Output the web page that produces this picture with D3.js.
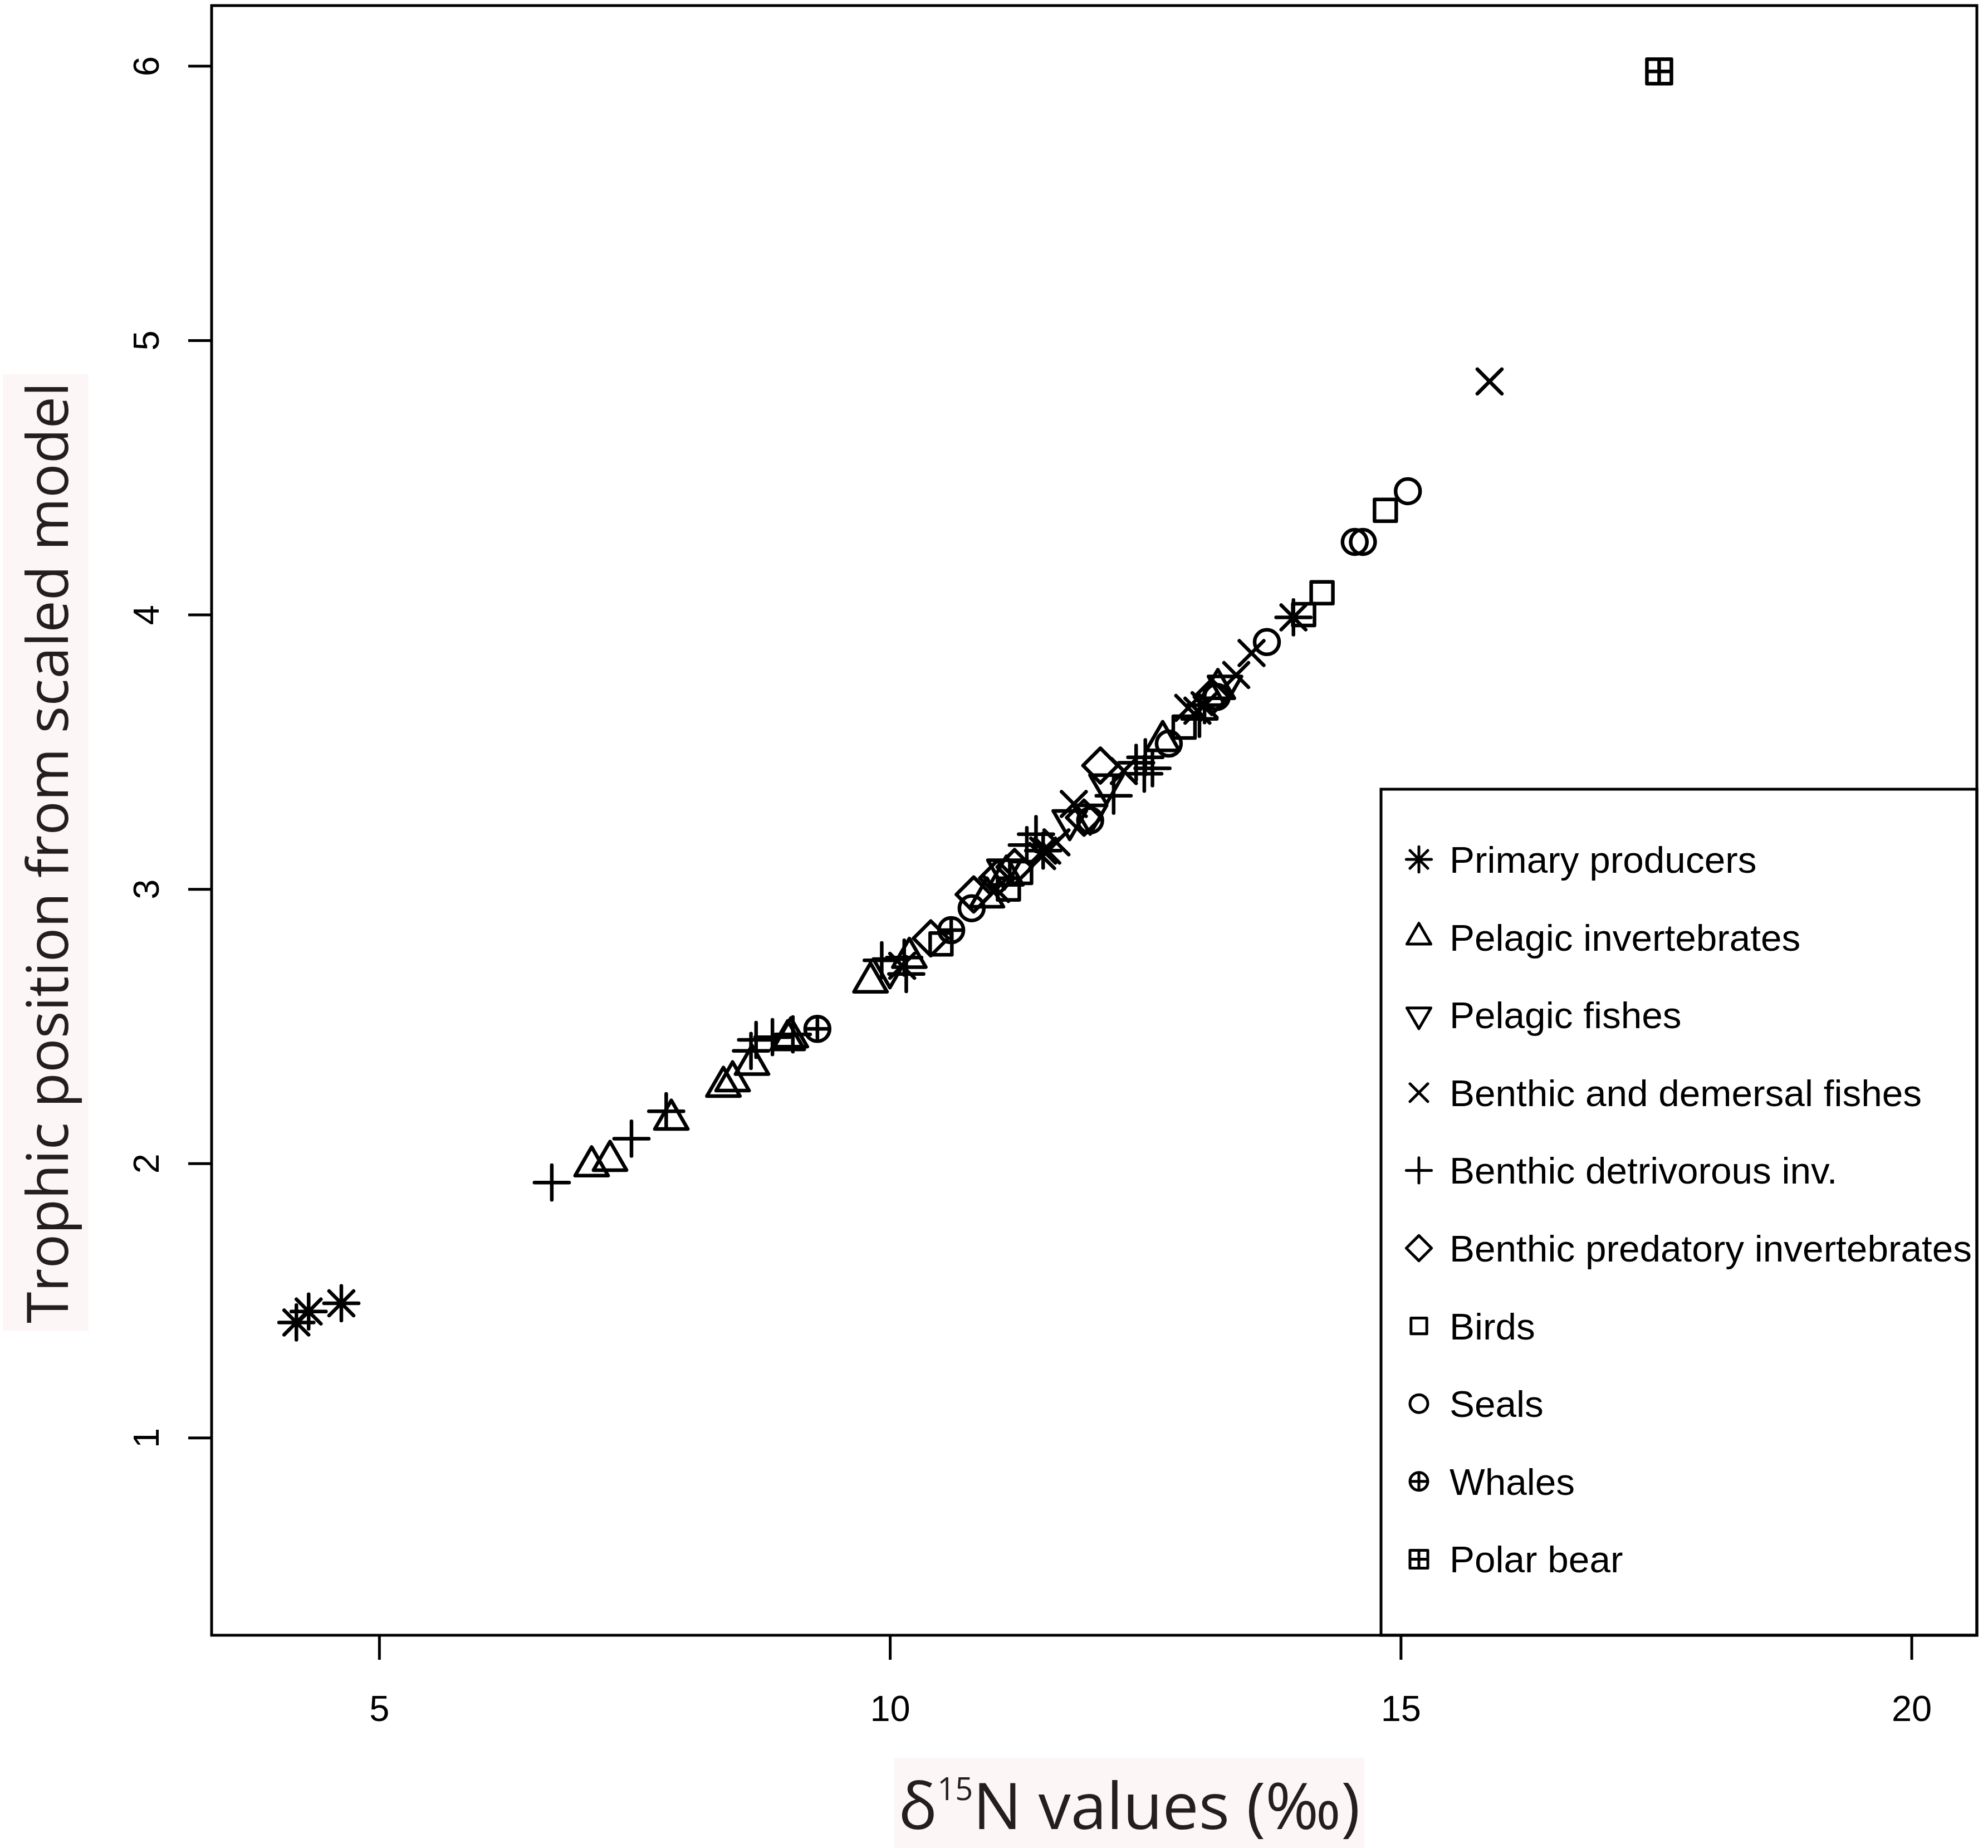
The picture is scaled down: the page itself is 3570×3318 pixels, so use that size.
<!DOCTYPE html>
<html>
<head>
<meta charset="utf-8">
<script src="https://cdn.jsdelivr.net/npm/d3@7"></script>
<style>
  body { margin: 0; background: #fff; }
</style>
</head>
<body>
<svg id="chart"></svg>
<script>
// legend order, one R plotting symbol per group
const categories = ["Primary producers", "Pelagic invertebrates", "Pelagic fishes",
  "Benthic and demersal fishes", "Benthic detrivorous inv.", "Benthic predatory invertebrates",
  "Birds", "Seals", "Whales", "Polar bear"];
const symbols = ["asterisk", "triUp", "triDown", "cross", "plus", "diamond",
  "square", "circle", "circlePlus", "squarePlus"];

// [delta15N, trophic position]
const primaryProducers = [[4.19, 1.42], [4.31, 1.46], [4.63, 1.49], [11.50, 3.14], [13.08, 3.67], [13.95, 3.99]];
const pelagicInvertebrates = [[7.08, 1.99], [7.26, 2.01], [7.86, 2.16], [8.37, 2.28], [8.46, 2.30], [8.65, 2.36],
  [9.00, 2.45], [9.03, 2.46], [9.81, 2.66], [10.19, 2.75], [10.95, 2.97], [11.14, 3.05], [12.67, 3.54], [13.21, 3.73]];
const pelagicFishes = [[10.00, 2.71], [11.12, 3.07], [11.76, 3.25], [11.96, 3.27], [12.12, 3.38], [13.28, 3.74]];
const benthicFishes = [[10.12, 2.72], [11.04, 3.00], [11.49, 3.12], [11.54, 3.14], [11.63, 3.17], [11.80, 3.31],
  [12.29, 3.43], [12.92, 3.66], [13.01, 3.65], [13.39, 3.78], [13.54, 3.86], [15.87, 4.85]];
const benthicDetritivores = [[6.69, 1.93], [7.47, 2.09], [7.81, 2.19], [8.64, 2.41], [8.69, 2.45], [8.85, 2.46],
  [9.05, 2.47], [9.92, 2.74], [10.14, 2.75], [10.16, 2.69], [11.34, 3.16], [11.43, 3.20], [12.19, 3.34],
  [12.41, 3.46], [12.50, 3.48], [12.57, 3.44], [12.49, 3.42], [13.03, 3.62]];
const benthicPredators = [[10.40, 2.82], [10.82, 2.98], [11.05, 3.04], [11.22, 3.08], [11.90, 3.26], [12.06, 3.45],
  [13.15, 3.70]];
const birds = [[10.50, 2.80], [11.16, 3.00], [11.28, 3.06], [12.88, 3.59], [14.05, 4.00], [14.23, 4.08], [14.85, 4.38]];
const seals = [[10.80, 2.93], [11.96, 3.25], [12.73, 3.53], [13.20, 3.70], [13.69, 3.90], [14.55, 4.265],
  [14.63, 4.265], [15.07, 4.45]];
const whales = [[9.29, 2.49], [10.60, 2.85]];
const polarBear = [[17.53, 5.98]];

const seriesPoints = [primaryProducers, pelagicInvertebrates, pelagicFishes, benthicFishes,
  benthicDetritivores, benthicPredators, birds, seals, whales, polarBear];

const xTicks = [5, 10, 15, 20];
const yTicks = [1, 2, 3, 4, 5, 6];

const width = 3570, height = 3318;
const plot = { left: 380, right: 3550, top: 10, bottom: 2936 };

const svg = d3.select("#chart")
  .attr("width", width)
  .attr("height", height)
  .attr("viewBox", `0 0 ${width} ${height}`);

svg.append("rect").attr("width", width).attr("height", height).attr("fill", "#fff");

// R style: xlim c(4,20), ylim c(0.5,6), 4% padding each side
const x = d3.scaleLinear().domain([3.36, 20.64]).range([plot.left, plot.right]);
const y = d3.scaleLinear().domain([0.28, 6.22]).range([plot.bottom, plot.top]);

// same geometry as R's GESymbol
function symbolPath(type, r) {
  const s2 = Math.SQRT2 * r;
  const seg = (x1, y1, x2, y2) => `M${x1},${y1}L${x2},${y2}`;
  const circle = rad => `M${-rad},0A${rad},${rad} 0 1,0 ${rad},0A${rad},${rad} 0 1,0 ${-rad},0Z`;
  const a = 1.5551 * r, b = 1.3468 * r, c = 0.7776 * r, q = 0.8862 * r;
  switch (type) {
    case "asterisk": return seg(-r, -r, r, r) + seg(-r, r, r, -r) + seg(-s2, 0, s2, 0) + seg(0, -s2, 0, s2);
    case "triUp": return `M0,${-a}L${b},${c}L${-b},${c}Z`;
    case "triDown": return `M0,${a}L${b},${-c}L${-b},${-c}Z`;
    case "cross": return seg(-r, -r, r, r) + seg(-r, r, r, -r);
    case "plus": return seg(-s2, 0, s2, 0) + seg(0, -s2, 0, s2);
    case "diamond": return `M0,${-s2}L${s2},0L0,${s2}L${-s2},0Z`;
    case "square": return `M${-q},${-q}H${q}V${q}H${-q}Z`;
    case "circle": return circle(r);
    case "circlePlus": return circle(r) + seg(-r, 0, r, 0) + seg(0, -r, 0, r);
    case "squarePlus": return `M${-r},${-r}H${r}V${r}H${-r}Z` + seg(-r, 0, r, 0) + seg(0, -r, 0, r);
  }
}

// points
const points = seriesPoints.flatMap((pts, i) => pts.map(p => ({ x: p[0], y: p[1], sym: symbols[i] })));
svg.append("g")
  .selectAll("path")
  .data(points)
  .enter().append("path")
  .attr("transform", d => `translate(${x(d.x)},${y(d.y)})`)
  .attr("d", d => symbolPath(d.sym, 22))
  .attr("fill", "none")
  .attr("stroke", "#000")
  .attr("stroke-width", 6.5)
  .attr("stroke-linecap", "round")
  .attr("stroke-linejoin", "round");

// axes
const xAxis = svg.append("g")
  .attr("transform", `translate(0,${plot.bottom})`)
  .call(d3.axisBottom(x).tickValues(xTicks).tickFormat(d3.format("d"))
    .tickSize(44).tickSizeOuter(0).tickPadding(64));
const yAxis = svg.append("g")
  .attr("transform", `translate(${plot.left},0)`)
  .call(d3.axisLeft(y).tickValues(yTicks).tickFormat(d3.format("d"))
    .tickSize(42).tickSizeOuter(0));

[xAxis, yAxis].forEach(g => {
  g.select(".domain").remove();
  g.selectAll(".tick line").attr("stroke", "#000").attr("stroke-width", 5);
  g.selectAll(".tick text")
    .attr("font-family", "'Liberation Sans', Arial, Helvetica, sans-serif")
    .attr("font-size", 65)
    .attr("fill", "#000");
});
yAxis.selectAll(".tick text")
  .attr("x", null).attr("dy", null)
  .attr("text-anchor", "middle")
  .attr("transform", "translate(-95,0) rotate(-90)");

// box
svg.append("rect")
  .attr("x", plot.left).attr("y", plot.top)
  .attr("width", plot.right - plot.left).attr("height", plot.bottom - plot.top)
  .attr("fill", "none").attr("stroke", "#000").attr("stroke-width", 5);

// legend
const legend = svg.append("g");
legend.append("rect")
  .attr("x", 2480).attr("y", 1417)
  .attr("width", plot.right - 2480).attr("height", plot.bottom - 1417)
  .attr("fill", "none").attr("stroke", "#000").attr("stroke-width", 5);

const item = legend.selectAll("g.item")
  .data(categories)
  .enter().append("g")
  .attr("class", "item")
  .attr("transform", (d, i) => `translate(2548,${1543 + i * 139.6})`);
item.append("path")
  .attr("d", (d, i) => symbolPath(symbols[i], 16))
  .attr("fill", "none").attr("stroke", "#000").attr("stroke-width", 5)
  .attr("stroke-linecap", "round").attr("stroke-linejoin", "round");
item.append("text")
  .attr("x", 55).attr("y", 24)
  .attr("font-family", "'Liberation Sans', Arial, Helvetica, sans-serif")
  .attr("font-size", 67.5)
  .attr("fill", "#000")
  .text(d => d);

// axis titles, each on a faint pink patch
function fitWidth(sel, target) {
  const w = sel.node().getComputedTextLength();
  sel.attr("font-size", parseFloat(sel.attr("font-size")) * target / w);
}
function patch(sel, pad) {
  const b = sel.node().getBBox();
  const t = sel.attr("transform") || "";
  svg.insert("rect", () => sel.node())
    .attr("transform", t)
    .attr("x", b.x - pad).attr("y", b.y - pad / 2)
    .attr("width", b.width + 2 * pad).attr("height", b.height + pad)
    .attr("fill", "#fdf6f6");
}

const yTitle = svg.append("text")
  .attr("transform", "translate(122,1531) rotate(-90)")
  .attr("text-anchor", "middle")
  .attr("font-family", "'Open Sans', 'Noto Sans', sans-serif")
  .attr("font-size", 100)
  .attr("fill", "#231f20")
  .text("Trophic position from scaled model");
fitWidth(yTitle, 1690);
patch(yTitle, 14);

const xTitle = svg.append("text")
  .attr("x", 2028).attr("y", 3284)
  .attr("text-anchor", "middle")
  .attr("font-family", "'Open Sans', 'Noto Sans', sans-serif")
  .attr("font-size", 116)
  .attr("fill", "#231f20");
xTitle.append("tspan").text("δ");
xTitle.append("tspan").attr("font-size", 56).attr("dy", -52).text("15");
xTitle.append("tspan").attr("dy", 52).text("N values (‰)");
patch(xTitle, 8);
</script>
</body>
</html>
